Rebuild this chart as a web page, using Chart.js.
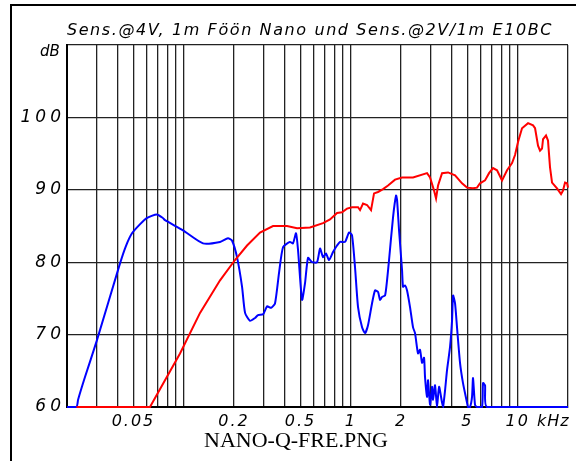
<!DOCTYPE html>
<html>
<head>
<meta charset="utf-8">
<script src="https://cdn.jsdelivr.net/npm/chart.js@4/dist/chart.umd.min.js"></script>
<style>
body{margin:0;background:#fff;width:576px;height:461px;overflow:hidden;position:relative}
#frame{position:absolute;left:10px;top:4px;width:620px;height:520px;border:2px solid #000;box-sizing:border-box}
canvas{position:absolute;left:0;top:0}
.lbl{position:absolute;font-family:"DejaVu Sans";font-style:italic;color:#000;white-space:nowrap}
#title{left:0;width:620px;text-align:center;top:20px;font-size:16px;letter-spacing:1.6px}
#db{left:40px;top:42px;font-size:15px}
#khz{left:537px;top:411px;font-size:16px;letter-spacing:1px}
#cap{position:absolute;left:0;width:592px;text-align:center;top:427px;font-family:"Liberation Serif";font-size:22px;color:#000}
</style>
</head>
<body>
<div id="frame"></div>
<canvas id="chart" width="576" height="461"></canvas>
<div class="lbl" id="title">Sens.@4V, 1m Föön Nano und Sens.@2V/1m E10BC</div>
<div class="lbl" id="db">dB</div>
<div class="lbl" id="khz">kHz</div>
<div id="cap">NANO-Q-FRE.PNG</div>
<script>
// frequency in kHz, level in dB
let nanoFreq=[0.02,0.0228,0.0233,0.0256,0.0302,0.0415,0.045,0.049,0.055,0.060,0.069,0.075,0.0773,0.099,0.1305,0.165,0.184,0.1945,0.2085,0.2235,0.233,0.2495,0.2673,0.2786,0.2985,0.3155,0.3334,0.352,0.372,0.3935,0.433,0.451,0.4705,0.4835,0.511,0.5325,0.555,0.5865,0.6285,0.655,0.6825,0.711,0.7413,0.7834,0.828,0.863,0.9245,0.977,1.018,1.061,1.106,1.169,1.218,1.269,1.341,1.398,1.457,1.497,1.540,1.605,1.650,1.696,1.792,1.868,1.894,1.947,2.029,2.057,2.114,2.174,2.265,2.361,2.427,2.529,2.600,2.673,2.748,2.786,2.864,2.904,2.985,3.069,3.111,3.198,3.287,3.379,3.522,3.571,3.671,3.773,3.933,4.044,4.100,4.214,4.330,4.513,4.703,4.970,5.039,5.180,5.325,5.399,5.550,5.705,6.113,6.198,6.371,6.549,20]
let nanoDb=[60,60,61,64.1,69.2,79.8,82.2,84.0,85.3,86.1,86.6,86.1,85.8,84.4,82.6,82.8,83.3,83.0,80.7,76.6,73.0,71.9,72.3,72.7,72.8,73.9,73.7,74.3,78.5,82.1,82.8,82.6,84.0,81.7,74.8,77.1,80.6,80.0,80.0,81.9,80.7,81.2,80.3,81.4,82.3,82.8,82.8,84.1,83.7,79.3,73.8,71.0,70.2,71.3,74.3,76.1,75.9,74.8,75.2,75.4,77.5,80.3,86.2,89.2,88.6,84.4,78.9,76.6,76.8,76.1,73.8,71.0,70.2,67.4,67.9,66.1,66.8,64.1,61.4,63.7,60.3,62.8,61.0,63.0,60,62.8,60.6,60,62.3,65.1,68.3,72.0,75.4,74.3,71.0,66.1,63.3,60.6,60,60,61.4,64.0,60.3,60,60,63.3,63.0,60,60]

let e10Freq=[0.0228,0.0628,0.0950,0.1252,0.165,0.2028,0.2394,0.2863,0.3425,0.4154,0.477,0.5705,0.6825,0.7517,0.828,0.887,0.950,1.018,1.106,1.137,1.185,1.252,1.323,1.379,1.457,1.561,1.673,1.842,2.029,2.361,2.864,2.985,3.154,3.243,3.334,3.522,3.825,4.214,4.639,4.970,5.399,5.705,5.946,6.371,6.733,7.114,7.518,8.054,8.630,9.246,9.634,10.04,10.61,11.53,12.35,12.70,13.23,13.60,13.98,14.18,14.77,15.18,15.61,16.05,17.19,18.17,18.67,19.20,19.74,20]
let e10Db=[60,60,67.4,73.0,77.5,80.3,82.3,84.1,85.0,85.0,84.7,84.8,85.4,85.9,86.8,86.9,87.4,87.6,87.6,87.2,88.1,87.9,87.2,89.5,89.7,90.1,90.6,91.4,91.7,91.7,92.3,91.7,89.9,88.8,90.6,92.3,92.4,92.0,90.9,90.3,90.2,90.3,90.9,91.3,92.3,93.0,92.7,91.3,92.7,93.7,94.8,96.6,98.5,99.2,98.9,98.5,96.1,95.4,95.7,97.0,97.5,96.8,93.1,91.0,90.2,89.4,89.9,91.0,90.9,90.3]

let gridFreq=[0.02,0.03,0.04,0.05,0.06,0.07,0.08,0.09,0.1,0.2,0.3,0.4,0.5,0.6,0.7,0.8,0.9,1,2,3,4,5,6,7,8,9,10,20]
let labelFreq=[0.05,0.2,0.5,1,2,5,10]
let dbTicks=[60,70,80,90,100,110]

function pairs(xs,ys){return xs.map((x,i)=>({x:x,y:ys[i]}))}

// wider letter spacing on the tick labels, like the plotter font
let spacing={id:'spacing',afterLayout(c){
    let sp={x:'2px',y:'4px'}
    for(let id in sp){
        let s=c.scales[id]
        if(s._wrapped)continue
        let orig=s.drawLabels.bind(s)
        s.drawLabels=function(a){c.ctx.save();c.ctx.letterSpacing=sp[id];orig(a);c.ctx.restore()}
        s._wrapped=true
    }
}}

let ctx=document.getElementById('chart').getContext('2d');
let myChart=new Chart(ctx,{
    type:'line',
    data:{
        datasets:[
            {label:'E10BC',data:pairs(e10Freq,e10Db),borderColor:'#ff0000',borderWidth:2,pointRadius:0,tension:0,clip:4},
            {label:'Nano',data:pairs(nanoFreq,nanoDb),borderColor:'#0000ff',borderWidth:2,pointRadius:0,tension:0.2,clip:4}
        ]
    },
    options:{
        responsive:false,
        animation:false,
        events:[],
        layout:{padding:{top:45,right:8,left:0,bottom:0}},
        plugins:{legend:{display:false},tooltip:{enabled:false}},
        scales:{
            x:{
                type:'logarithmic',min:0.02,max:20,
                afterBuildTicks:s=>{s.ticks=gridFreq.map(v=>({value:v}))},
                afterFit:s=>{s.height=54;s.paddingLeft=0;s.paddingRight=0},
                grid:{color:'#222',lineWidth:1.3,drawTicks:false},
                border:{color:'#000',width:2},
                ticks:{autoSkip:false,maxRotation:0,padding:5,color:'#000',
                    font:{family:'DejaVu Sans',style:'italic',size:16},
                    callback:v=>labelFreq.includes(v)?String(v):''}
            },
            y:{
                min:60,max:110,
                afterBuildTicks:s=>{s.ticks=dbTicks.map(v=>({value:v}))},
                afterFit:s=>{s.width=67;s.paddingTop=0;s.paddingBottom=0},
                grid:{color:'#222',lineWidth:1.3,drawTicks:false},
                border:{color:'#000',width:2},
                ticks:{padding:2,color:'#000',
                    font:{family:'DejaVu Sans',style:'italic',size:17},
                    callback:v=>v<110?String(v):''}
            }
        }
    },
    plugins:[spacing]
});
</script>
</body>
</html>
